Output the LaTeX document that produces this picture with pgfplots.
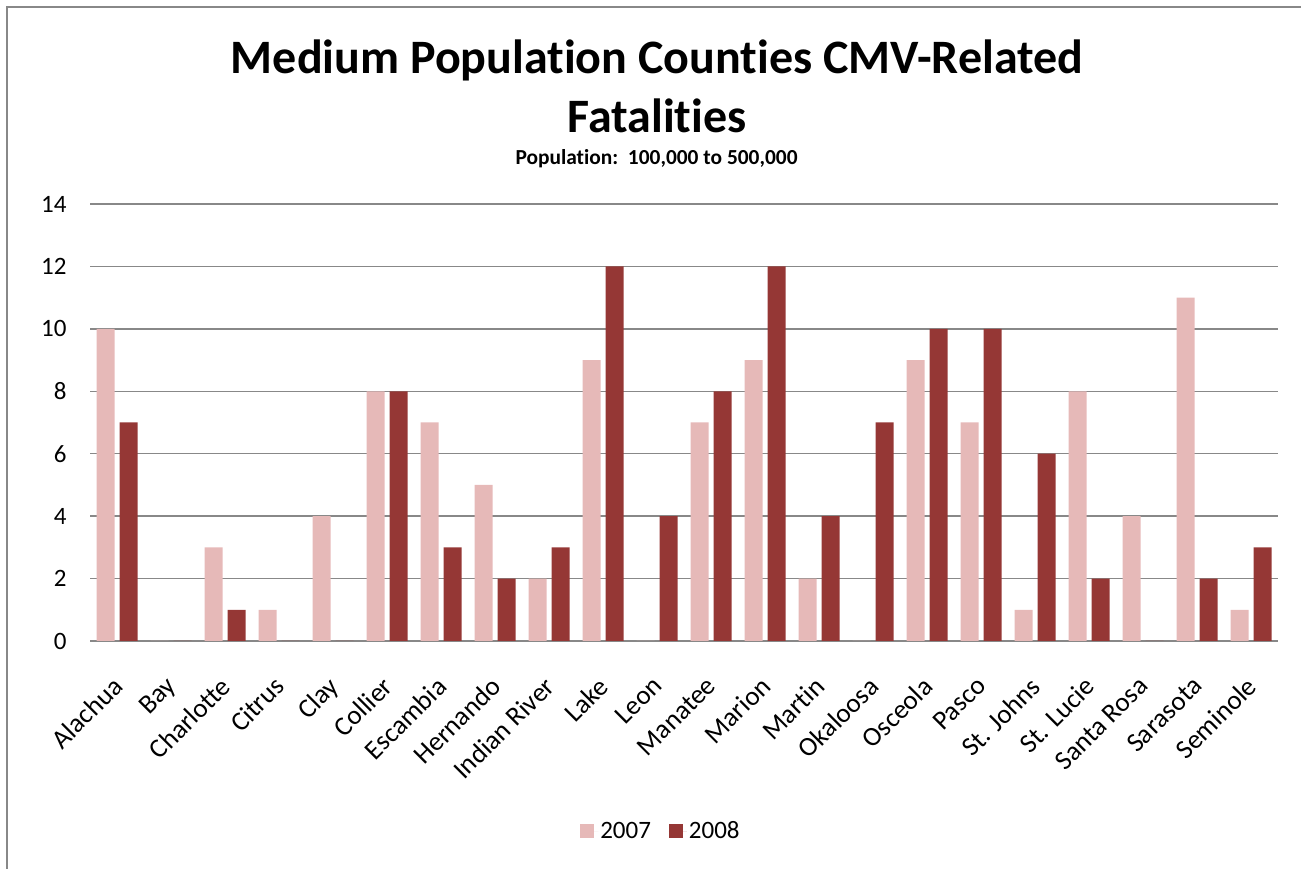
\documentclass[border=0pt]{standalone}
\usepackage{fontspec}
\setmainfont[Ligatures=NoCommon]{Carlito}
\usepackage{pgfplots}
\pgfplotsset{compat=1.18}
\definecolor{pinkbar}{HTML}{E6B9B8}
\definecolor{redbar}{HTML}{953735}
\definecolor{gridgray}{HTML}{888888}
\begin{document}
\begin{tikzpicture}
\useasboundingbox (0,0) rectangle (1301pt,869pt);
\draw[gridgray, line width=2.2pt] (7pt,0pt) -- (7pt,862pt) -- (1301pt,862pt);
\node[anchor=base, font=\fontsize{48}{56}\selectfont\bfseries] at (657pt,795pt) {Medium Population Counties CMV-Related};
\node[anchor=base, font=\fontsize{48}{56}\selectfont\bfseries] at (657pt,736pt) {Fatalities};
\node[anchor=base, font=\fontsize{21.4}{25}\selectfont\bfseries] at (656.5pt,704pt) {Population:\ \ 100,000 to 500,000};
\begin{axis}[
  at={(90pt,228pt)}, anchor=south west,
  scale only axis, width=1188pt, height=437pt,
  xmin=-0.5, xmax=21.5, ymin=0, ymax=14,
  ybar=5pt, bar width=18pt,
  xtick=data,
  xticklabels={Alachua,Bay,Charlotte,Citrus,Clay,Collier,Escambia,Hernando,Indian River,Lake,Leon,Manatee,Marion,Martin,Okaloosa,Osceola,Pasco,St. Johns,St. Lucie,Santa Rosa,Sarasota,Seminole},
  ytick={0,2,...,14},
  major tick length=0pt,
  axis lines*=left,
  x axis line style={gridgray, line width=1.5pt},
  y axis line style={draw=none},
  ymajorgrids, grid style={gridgray, line width=1.3pt},
  /pgf/number format/assume math mode=true,
  yticklabel style={xshift=-20pt, font=\fontsize{25}{29}\selectfont},
  xticklabel style={xshift=-6pt, yshift=-34pt, rotate=45, anchor=north east, inner sep=0pt, font=\fontsize{27}{31}\selectfont},
  legend style={at={(0.4806,-0.435)}, anchor=center, draw=none, font=\fontsize{25}{29}\selectfont, legend columns=2, /tikz/every even column/.append style={column sep=16pt}},
  legend image code/.code={\fill[#1] (0pt,-7pt) rectangle (14pt,7pt); \path (0pt,0pt) -- (18pt,0pt);},
]
\addplot[fill=pinkbar, draw=none] coordinates {
(0,10) (1,0) (2,3) (3,1) (4,4) (5,8) (6,7) (7,5) (8,2) (9,9) (10,0)
(11,7) (12,9) (13,2) (14,0) (15,9) (16,7) (17,1) (18,8) (19,4) (20,11) (21,1)};
\addplot[fill=redbar, draw=none] coordinates {
(0,7) (1,0) (2,1) (3,0) (4,0) (5,8) (6,3) (7,2) (8,3) (9,12) (10,4)
(11,8) (12,12) (13,4) (14,7) (15,10) (16,10) (17,6) (18,2) (19,0) (20,2) (21,3)};
\legend{2007,2008}
\end{axis}
\end{tikzpicture}
\end{document}
